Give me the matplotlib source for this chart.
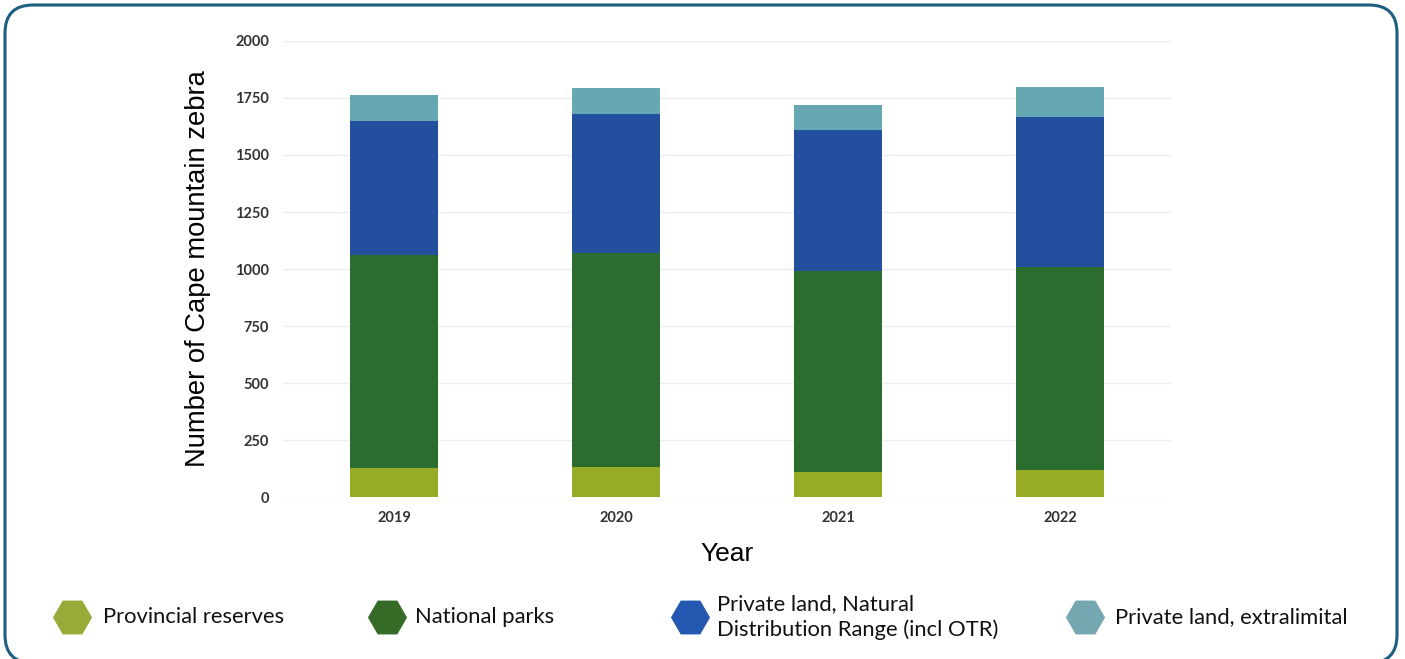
import numpy as np
import matplotlib
matplotlib.use('Agg')
import matplotlib.pyplot as plt
from matplotlib.patches import FancyBboxPatch
from matplotlib.lines import Line2D

# Datos
years = ['2019', '2020', '2021', '2022']
provincial = [127, 132, 110, 118]
national = [934, 938, 881, 891]
private_ndr = [588, 610, 619, 658]
private_extra = [114, 114, 109, 131]

labels = ['Provincial reserves', 'National parks',
          'Private land, Natural\nDistribution Range (incl OTR)',
          'Private land, extralimital']
bar_colors = ['#97ab27', '#2a6d2f', '#23509e', '#66a8b1']
marker_colors = ['#97ab38', '#346b27', '#2458b0', '#74a7b0']

fig = plt.figure(figsize=(14.05, 6.59), dpi=100)
ax = fig.add_axes([0.2014, 0.2458, 0.632, 0.692])

x = np.arange(len(years))
bottom = np.zeros(len(years))
for vals, col in zip([provincial, national, private_ndr, private_extra], bar_colors):
    ax.bar(x, vals, width=0.4, bottom=bottom, color=col, zorder=3)
    bottom += np.array(vals)

ax.set_xlim(-0.5, 3.5)
ax.set_ylim(0, 2000)
ax.set_yticks(np.arange(0, 2001, 250))
ax.set_xticks(x)
ax.set_xticklabels(years)
ax.grid(axis='y', color='#eeeeee', linewidth=1, zorder=0)
for s in ax.spines.values():
    s.set_visible(False)
ax.tick_params(length=0, labelsize=10.5, colors='#333333')
for t in ax.get_xticklabels() + ax.get_yticklabels():
    t.set_fontfamily('Lato')
    t.set_fontweight('bold')
ax.tick_params(axis='x', pad=10)
ax.tick_params(axis='y', pad=10)

ax.set_ylabel('Number of Cape mountain zebra', fontsize=19.7, family='Liberation Sans', labelpad=17)
ax.set_xlabel('Year', fontsize=19, family='Liberation Sans', labelpad=12)

# Leyenda manual con hexagonos
leg_x = [72, 387, 690, 1085]
txt_x = [103, 415, 717, 1115]
leg_y = 617
for lx, tx, lab, mc in zip(leg_x, txt_x, labels, marker_colors):
    fig.add_artist(Line2D([lx / 1405], [1 - leg_y / 659], marker='H', markersize=27,
                          color=mc, linestyle='none', transform=fig.transFigure))
    fig.text(tx / 1405, 1 - leg_y / 659, lab, fontsize=15.8, family='Lato',
             va='center', ha='left', color='#111111', linespacing=1.3)

# Marco redondeado
box = FancyBboxPatch((0.05, -0.04), 13.92, 6.58,
                     boxstyle='round,pad=0,rounding_size=0.28',
                     transform=fig.dpi_scale_trans, facecolor='none',
                     edgecolor='#1d5f7f', linewidth=2.2)
fig.add_artist(box)

plt.savefig('out.png', dpi=100)
